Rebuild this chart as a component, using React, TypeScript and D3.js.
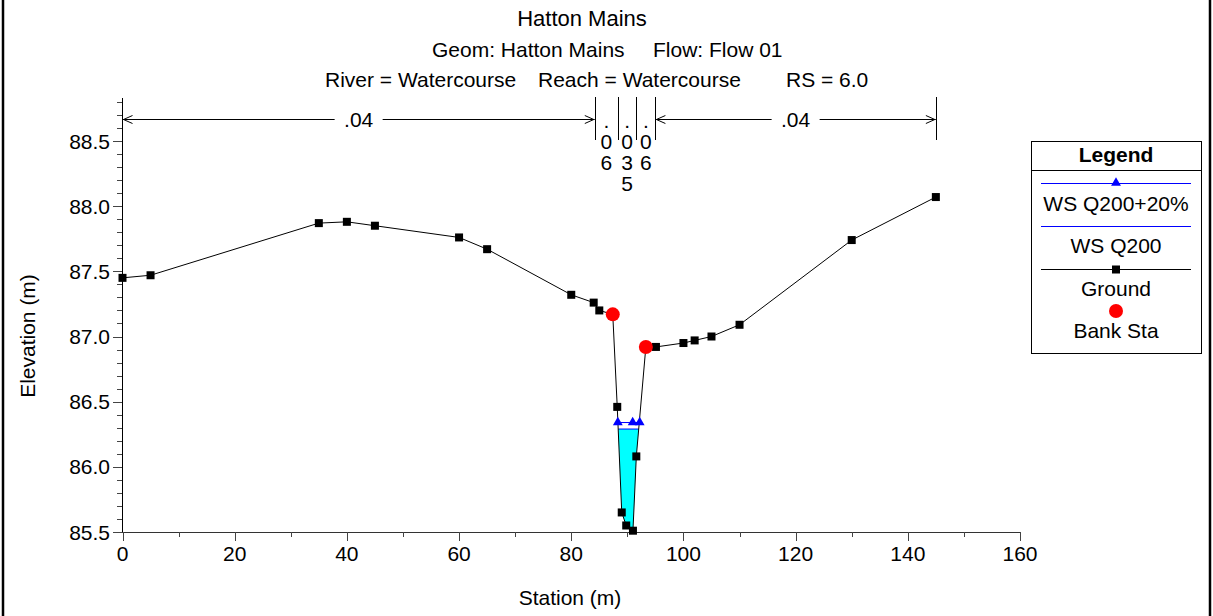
import React from 'react';
import * as d3 from 'd3';

// ground profile
const groundSta = [0, 5, 35, 40, 45, 60, 65, 80, 84, 85, 87.4, 88.2, 89.0, 89.8, 91.0, 91.6, 93.3, 95.1, 100, 102, 105, 110, 130, 145];
const groundElev = [87.45, 87.47, 87.87, 87.88, 87.85, 87.76, 87.67, 87.32, 87.26, 87.2, 87.17, 86.46, 85.65, 85.55, 85.51, 86.08, 86.92, 86.92, 86.95, 86.97, 87.0, 87.09, 87.74, 88.07];
const bankSta = [87.4, 93.3];

const wsQ200p20 = 86.34;
const wsQ200 = 86.29;
const wsMarkerSta = [88.3, 90.95, 92.2];

// manning's n regions
const nSta = [0, 84.2, 88.3, 91.6, 95.0, 145];
const nVal = ['.04', '.06', '.035', '.06', '.04'];

const xTicks = [0, 20, 40, 60, 80, 100, 120, 140, 160];
const yTicks = [85.5, 86.0, 86.5, 87.0, 87.5, 88.0, 88.5];

const FONT = "'Liberation Sans', Arial, Helvetica, sans-serif";
const FS = 21;
const W = 1213;
const H = 616;

const x = d3.scaleLinear().domain([0, 160]).range([122.5, 1020]);
const y = d3.scaleLinear().domain([85.5, 88.83]).range([532, 98]);

// where a water level meets the ground either side of the thalweg
const waterEdges = (ws: number) => {
  const iMin = d3.minIndex(groundElev);
  let i = iMin;
  while (i > 0 && groundElev[i - 1] < ws) i--;
  let j = iMin;
  while (j < groundElev.length - 1 && groundElev[j + 1] < ws) j++;
  const cross = (a: number, b: number) => {
    const t = (ws - groundElev[a]) / (groundElev[b] - groundElev[a]);
    return groundSta[a] + t * (groundSta[b] - groundSta[a]);
  };
  const inner = d3.range(i, j + 1).map((k) => [groundSta[k], groundElev[k]] as [number, number]);
  return { left: cross(i - 1, i), right: cross(j + 1, j), inner };
};

const Square = ({ cx, cy, s = 8 }: { cx: number; cy: number; s?: number }) => (
  <rect x={cx - s / 2} y={cy - s / 2} width={s} height={s} fill="#000" />
);

const tri = d3.symbol().type(d3.symbolTriangle).size(42)() as string;

export default function App() {
  const groundPts = groundSta.map((s, i) => [s, groundElev[i]] as [number, number]);
  const line = d3.line<[number, number]>().x((d) => x(d[0])).y((d) => y(d[1]));

  const q = waterEdges(wsQ200);
  const fillPts: [number, number][] = [[q.left, wsQ200], ...q.inner, [q.right, wsQ200]];
  const q20 = waterEdges(wsQ200p20);

  const bankElev = bankSta.map((s) => groundElev[groundSta.indexOf(s)]);

  const yMinor = d3.range(855, 889).map((v) => v / 10).filter((v) => Math.round(v * 10) % 5 !== 0);
  const xMinor = d3.range(10, 160, 20);

  const nTop = 97;
  const nBot = 140;
  const arrowY = 119.5;

  const arrowHead = (px: number, dir: number) =>
    `M${px + dir * 9},${arrowY - 4} L${px},${arrowY} L${px + dir * 9},${arrowY + 4}`;

  return (
    <svg width={W} height={H} style={{ position: 'absolute', left: 0, top: 0, background: '#fff' }} fontFamily={FONT}>
      <rect width={W} height={H} fill="#fff" />
      <line x1={3} y1={0} x2={3} y2={H} stroke="#000" strokeWidth={2.5} />
      <line x1={1210} y1={0} x2={1210} y2={H} stroke="#000" strokeWidth={2.5} />

      {/* titles */}
      <text x={582} y={26} fontSize={22} textAnchor="middle">Hatton Mains</text>
      <text x={432} y={57} fontSize={FS}>Geom: Hatton Mains</text>
      <text x={653} y={57} fontSize={FS}>Flow: Flow 01</text>
      <text x={325} y={87} fontSize={FS}>River = Watercourse</text>
      <text x={538} y={87} fontSize={FS}>Reach = Watercourse</text>
      <text x={786} y={87} fontSize={FS}>RS = 6.0</text>

      {/* manning's n */}
      <g stroke="#000" strokeWidth={1} fill="none">
        {nSta.slice(1).map((s) => (
          <line key={s} x1={Math.round(x(s)) + 0.5} x2={Math.round(x(s)) + 0.5} y1={nTop} y2={nBot} />
        ))}
      </g>
      {nVal.map((v, i) => {
        const x0 = x(nSta[i]);
        const x1 = x(nSta[i + 1]);
        const cx = (x0 + x1) / 2;
        if (x1 - x0 > 60) {
          const half = 24;
          return (
            <g key={i}>
              <line x1={x0} x2={cx - half} y1={arrowY} y2={arrowY} stroke="#000" />
              <line x1={cx + half} x2={x1} y1={arrowY} y2={arrowY} stroke="#000" />
              <path d={arrowHead(x0 + 1, 1)} stroke="#000" fill="none" />
              <path d={arrowHead(x1 - 1, -1)} stroke="#000" fill="none" />
              <text x={cx} y={arrowY + 7} fontSize={FS} textAnchor="middle">{v}</text>
            </g>
          );
        }
        return (
          <g key={i}>
            {v.split('').map((c, k) => (
              <text key={k} x={cx} y={128 + k * 21} fontSize={FS} textAnchor="middle">{c}</text>
            ))}
          </g>
        );
      })}

      {/* axes */}
      <g stroke="#000" strokeWidth={1}>
        <line x1={122.5} x2={122.5} y1={98} y2={532} />
        <line x1={122} x2={1020.5} y1={532.5} y2={532.5} stroke="#333" />
        {yTicks.map((t) => (
          <line key={t} x1={113} x2={122} y1={Math.round(y(t)) + 0.5} y2={Math.round(y(t)) + 0.5} stroke="#444" />
        ))}
        {yMinor.map((t) => (
          <line key={t} x1={117} x2={122} y1={Math.round(y(t)) + 0.5} y2={Math.round(y(t)) + 0.5} stroke="#444" />
        ))}
        {xTicks.map((t) => (
          <line key={t} x1={Math.round(x(t)) + 0.5} x2={Math.round(x(t)) + 0.5} y1={532} y2={541} stroke="#444" />
        ))}
        {xMinor.map((t) => (
          <line key={t} x1={Math.round(x(t)) + 0.5} x2={Math.round(x(t)) + 0.5} y1={532} y2={537} stroke="#444" />
        ))}
      </g>
      {yTicks.map((t) => (
        <text key={t} x={110} y={y(t) + 7.5} fontSize={FS} textAnchor="end">{t.toFixed(1)}</text>
      ))}
      {xTicks.map((t) => (
        <text key={t} x={x(t)} y={561} fontSize={FS} textAnchor="middle">{t}</text>
      ))}
      <text transform="translate(35,336) rotate(-90)" fontSize={FS} textAnchor="middle">Elevation (m)</text>
      <text x={570} y={605} fontSize={FS} textAnchor="middle">Station (m)</text>

      {/* water */}
      <path d={line(fillPts) + 'Z'} fill="#00ffff" stroke="none" />
      <line x1={x(q.left)} x2={x(q.right)} y1={y(wsQ200)} y2={y(wsQ200)} stroke="#0000ff" />
      <line x1={x(q20.left)} x2={x(q20.right)} y1={y(wsQ200p20)} y2={y(wsQ200p20)} stroke="#0000ff" />

      {/* ground */}
      <path d={line(groundPts) as string} fill="none" stroke="#000" strokeWidth={1} />
      {groundPts.map((p, i) => (
        <Square key={i} cx={x(p[0])} cy={y(p[1])} />
      ))}
      {wsMarkerSta.map((s) => (
        <path key={s} d={tri} transform={`translate(${x(s)},${y(wsQ200p20)})`} fill="#0000ff" />
      ))}
      {bankSta.map((s, i) => (
        <circle key={s} cx={x(s)} cy={y(bankElev[i])} r={7} fill="#ff0000" />
      ))}

      {/* legend */}
      <rect x={1031.5} y={141.5} width={170} height={212} fill="#fff" stroke="#000" />
      <line x1={1031} x2={1202} y1={170.5} y2={170.5} stroke="#000" />
      <text x={1116} y={162} fontSize={FS} fontWeight="bold" textAnchor="middle">Legend</text>
      <line x1={1041} x2={1191} y1={183.5} y2={183.5} stroke="#0000ff" />
      <path d={tri} transform="translate(1116,183)" fill="#0000ff" />
      <text x={1116} y={211} fontSize={FS} textAnchor="middle">WS Q200+20%</text>
      <line x1={1041} x2={1191} y1={226.5} y2={226.5} stroke="#0000ff" />
      <text x={1116} y={253} fontSize={FS} textAnchor="middle">WS Q200</text>
      <line x1={1041} x2={1191} y1={269.5} y2={269.5} stroke="#000" />
      <Square cx={1116} cy={269.5} />
      <text x={1116} y={296} fontSize={FS} textAnchor="middle">Ground</text>
      <circle cx={1116} cy={311} r={7} fill="#ff0000" />
      <text x={1116} y={338} fontSize={FS} textAnchor="middle">Bank Sta</text>
    </svg>
  );
}
